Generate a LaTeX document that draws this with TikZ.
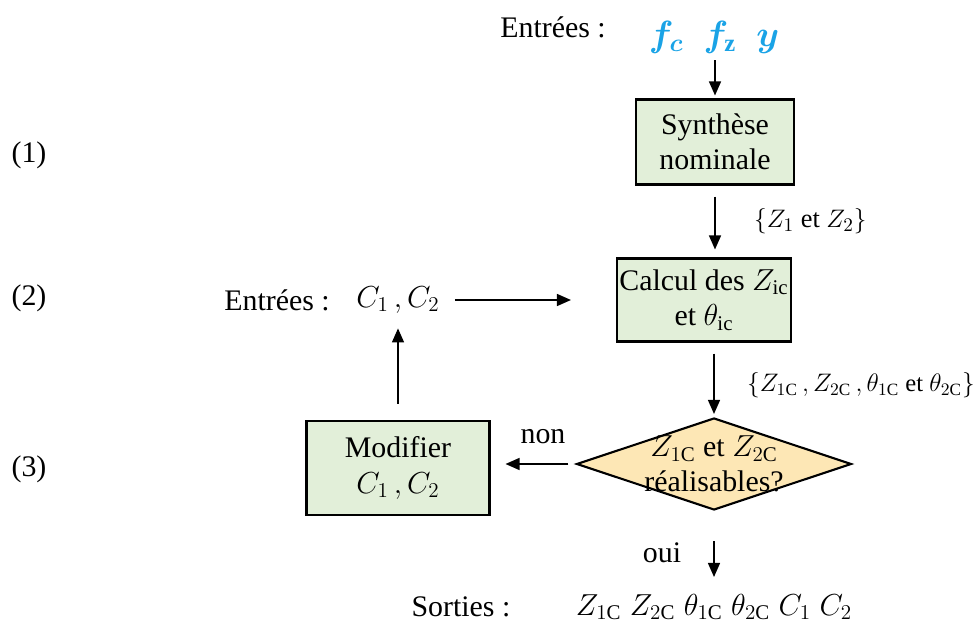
\documentclass[tikz,border=0pt]{standalone}
\usepackage{amsmath}
\usepackage{bm}
\usepackage{fontspec}
\setmainfont{Liberation Serif}
\usetikzlibrary{shapes.geometric,arrows.meta}
\definecolor{boxgreen}{HTML}{E2EFD9}
\definecolor{testyellow}{HTML}{FDE7B5}
\definecolor{inblue}{HTML}{1AA3E6}

\begin{document}
\begin{tikzpicture}[x=0.02cm, y=-0.02cm,
    every node/.style={font=\fontsize{17}{20}\selectfont},
    block/.style={draw, line width=1.2pt, fill=boxgreen, align=center, inner sep=0pt},
    test/.style={diamond, draw, line width=1.2pt, fill=testyellow, inner sep=0pt,
        minimum width=5.5cm, minimum height=1.84cm},
    txt/.style={align=center, inner sep=1pt},
    lbl/.style={inner sep=1pt, font=\fontsize{15}{18}\selectfont},
    arr/.style={-{Triangle[length=0.28cm, width=0.24cm]}, line width=0.8pt},
]
\useasboundingbox (0,0) rectangle (977,624);

% -- step numbers --
\node[txt] (s1) at (29,155) {(1)};
\node[txt] (s2) at (29,298) {(2)};
\node[txt] (s3) at (29,469) {(3)};

% -- inputs --
\node[txt] (inlbl) at (553,27) {Entrées :};
\node[txt, text=inblue, font=\fontsize{20}{22}\selectfont] (fin) at (714,37) {$\bm{f_c}\;\;\bm{f}_{\mathbf{z}}\;\;\bm{y}$};

% -- blocks --
\node[block, minimum width=3.16cm, minimum height=1.7cm] (synth) at (715,142) {Synthèse\\nominale};
\node[block, minimum width=3.48cm, minimum height=1.66cm] (calc) at (704,300) {Calcul des $Z_{\mathrm{ic}}$\\et $\theta_{\mathrm{ic}}$};
\node[txt] (cinlbl) at (277,300) {Entrées :};
\node[txt] (cin) at (398,300) {$C_1\,, C_2$};
\node[test] (feas) at (714,464) {};
\node[txt] (feastxt) at (feas.center) {$Z_{1\mathrm{C}}$ et $Z_{2\mathrm{C}}$\\réalisables?};
\node[block, minimum width=3.66cm, minimum height=1.88cm] (modif) at (398,468) {Modifier\\$C_1\,, C_2$};

% -- outputs --
\node[txt] (outlbl) at (461,607) {Sorties :};
\node[txt] (outs) at (714,607) {$Z_{1\mathrm{C}}\;Z_{2\mathrm{C}}\;\theta_{1\mathrm{C}}\;\theta_{2\mathrm{C}}\;C_1\;C_2$};

% -- arrows --
\draw[arr, shorten <=0.1cm, shorten >=0.06cm] (fin.south -| synth.north) -- (synth.north);
\draw[arr, shorten <=0.22cm, shorten >=0.16cm] (synth.south) -- (synth.south |- calc.north);
\draw[arr, shorten <=0.26cm, shorten >=0.9cm] (cin.east) -- (calc.west);
\draw[arr, shorten <=0.22cm, shorten >=0.06cm] (feas.north |- calc.south) -- (feas.north);
\draw[arr, shorten <=0.14cm, shorten >=0.3cm] (feas.west) -- (feas.west -| modif.east);
\draw[arr, shorten <=0.32cm, shorten >=0.26cm] (modif.north) -- (cin.south);
\draw[arr, shorten <=0.6cm, shorten >=0.3cm] (feas.south) -- (outs.north -| feas.south);

% -- arrow labels --
\node[lbl, anchor=west] (z12) at (752,221) {$\{Z_1$ et $Z_2\}$};
\node[lbl, anchor=west, font=\fontsize{14}{17}\selectfont] (zt12) at (745,385) {$\{Z_{1\mathrm{C}}\,,Z_{2\mathrm{C}}\,,\theta_{1\mathrm{C}}$ et $\theta_{2\mathrm{C}}\}$};
\node[txt] (non) at (543,437) {non};
\node[txt] (oui) at (662,553) {oui};

\end{tikzpicture}
\end{document}
